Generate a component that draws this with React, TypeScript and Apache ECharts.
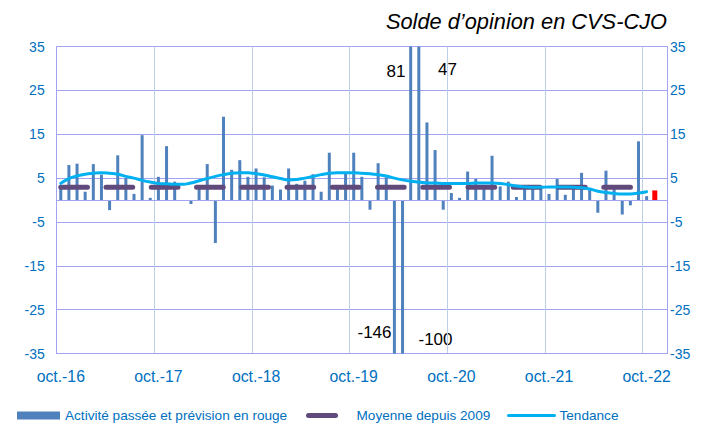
import React, { useEffect, useRef } from 'react';
import * as echarts from 'echarts';

const FONT = '"Liberation Sans", Arial, sans-serif';
const BLUE_TXT = '#0070C0';
const GRID_H = '#A3A3F2';
const GRID_V = '#BCCFE6';

// Tick labels (French month abbreviations) and years shown on the axis
const moisAbr = ['janv.', 'févr.', 'mars', 'avr.', 'mai', 'juin', 'juil.', 'août', 'sept.', 'oct.', 'nov.', 'déc.'];
const anneeDebut = 2016;
const anneeFin = 2022;

// Monthly opinion balance, oct-16 .. oct-22 (73 months)
const activite = [
  3.0, 8.0, 8.3, 1.9, 8.2, 5.8, -2.3, 10.2, 5.0, 1.4, 14.8, 0.5,
  5.3, 12.3, 4.2, -0.2, -0.9, 2.8, 8.2, -9.8, 19.0, 6.9, 9.1, 5.3,
  7.2, 5.2, 3.3, 2.4, 7.2, 3.7, 4.4, 5.9, 1.9, 10.8, 2.5, 6.0,
  10.8, 5.3, -2.2, 8.4, 5.2, -146, -100, 81, 47, 17.7, 11.4, -2.2,
  1.6, 0.5, 6.5, 4.8, 2.5, 10.1, 3.1, 4.2, 0.7, 2.5, 2.5, 3.2,
  1.4, 4.8, 1.2, 2.5, 6.2, 2.3, -2.9, 6.7, 2.7, -3.3, -1.2, 13.4,
  0.9,
];
// Forecast (red) for nov-22
const prevision = [2.2];

// Smoothed trend
const tendance = [
  3.8, 4.9, 5.5, 5.9, 6.1, 6.2, 6.1, 5.9, 5.4, 5.0, 4.5, 4.1,
  3.8, 3.7, 3.6, 3.6, 3.9, 4.4, 4.9, 5.4, 5.8, 6.1, 6.2, 6.2,
  6.0, 5.7, 5.3, 4.9, 4.6, 4.7, 5.0, 5.4, 5.8, 6.1, 6.2, 6.2,
  6.2, 6.1, 6.0, 5.8, 5.5, 5.0, 4.6, 4.3, 4.1, 3.9, 3.9, 3.8,
  3.8, 3.8, 3.8, 3.9, 3.9, 3.9, 3.8, 3.5, 3.2, 3.0, 2.9, 2.9,
  3.0, 3.0, 3.0, 2.9, 2.8, 2.5, 2.0, 1.7, 1.5, 1.4, 1.4, 1.6,
  1.9,
];

// Long-run mean since 2009
const moyenne = [2.9];

const NOM_ACT = 'Activité passée et prévision en rouge';
const NOM_PREV = 'Prévision';
const NOM_MOY = 'Moyenne depuis 2009';
const NOM_TEND = 'Tendance';

const categories: string[] = [];
for (let y = anneeDebut; y <= anneeFin; y++) {
  for (let m = 0; m < 12; m++) {
    if (y === anneeDebut && m < 9) continue;
    categories.push(`${moisAbr[m]}-${String(y).slice(2)}`);
  }
}

export default function App() {
  const ref = useRef<HTMLDivElement>(null);

  useEffect(() => {
    document.body.style.margin = '0';
    if (!ref.current) return;
    const chart = echarts.init(ref.current, undefined, { renderer: 'svg' });

    const prevData: (number | null)[] = activite.map(() => null);
    prevision.forEach((v) => prevData.push(v));
    const moyData = activite.map(() => moyenne[0]);

    const legendText = { color: BLUE_TXT, fontSize: 13.6, fontFamily: FONT };
    const LEG_TOP = 408.5;

    const yCommon = {
      type: 'value',
      min: -35,
      max: 35,
      interval: 10,
      axisTick: { show: false },
      axisLine: { show: true, lineStyle: { color: GRID_H } },
    };

    chart.setOption({
      animation: false,
      textStyle: { fontFamily: FONT },
      title: {
        text: 'Solde d’opinion en CVS-CJO',
        right: 29,
        top: 5,
        textStyle: { fontSize: 21.8, fontStyle: 'italic', fontWeight: 'normal', color: '#000', fontFamily: FONT },
      },
      grid: { left: 56.7, right: 34, top: 46.6, bottom: 69.5 },
      xAxis: [
        {
          type: 'category',
          data: categories,
          boundaryGap: true,
          axisLine: { show: true, onZero: false, lineStyle: { color: GRID_H } },
          axisTick: { show: false },
          axisLabel: { interval: 11, color: BLUE_TXT, fontSize: 15.8, margin: 15, fontFamily: FONT },
          splitLine: { show: true, interval: 11, lineStyle: { color: GRID_V } },
        },
        {
          type: 'category',
          data: categories,
          boundaryGap: true,
          show: false,
        },
      ],
      yAxis: [
        {
          ...yCommon,
          position: 'left',
          axisLabel: { color: BLUE_TXT, fontSize: 14, margin: 12, fontFamily: FONT },
          splitLine: { show: true, lineStyle: { color: GRID_H } },
        },
        {
          ...yCommon,
          position: 'right',
          axisLabel: { color: BLUE_TXT, fontSize: 14, margin: 3, fontFamily: FONT },
          splitLine: { show: false },
        },
      ],
      legend: [
        {
          data: [NOM_ACT],
          left: 17,
          top: LEG_TOP,
          padding: 0,
          itemWidth: 43,
          itemHeight: 8,
          icon: 'rect',
          selectedMode: false,
          textStyle: legendText,
        },
        {
          data: [NOM_MOY],
          left: 306,
          top: LEG_TOP,
          padding: 0,
          itemWidth: 27,
          itemHeight: 12,
          selectedMode: false,
          itemStyle: { opacity: 0 },
          lineStyle: { width: 5, type: 'solid', cap: 'round' },
          textStyle: { ...legendText, padding: [0, 0, 0, 16] },
        },
        {
          data: [NOM_TEND],
          left: 507,
          top: LEG_TOP,
          padding: 0,
          itemWidth: 46,
          itemHeight: 12,
          selectedMode: false,
          itemStyle: { opacity: 0 },
          lineStyle: { width: 3 },
          textStyle: { ...legendText, padding: [0, 0, 0, 0] },
        },
      ],
      series: [
        {
          name: NOM_ACT,
          type: 'bar',
          data: activite,
          barWidth: 3,
          itemStyle: { color: '#4F81BD' },
          clip: true,
          markLine: {
            silent: true,
            symbol: 'none',
            label: { show: false },
            lineStyle: { color: GRID_H, width: 1, type: 'solid' },
            data: [{ yAxis: 0 }],
          },
        },
        {
          name: NOM_PREV,
          type: 'bar',
          xAxisIndex: 1,
          data: prevData,
          barWidth: 5,
          itemStyle: { color: '#FF0000' },
        },
        {
          name: NOM_MOY,
          type: 'line',
          data: moyData,
          symbol: 'none',
          lineStyle: { color: '#604A7B', width: 5, type: [26.7, 18.55], cap: 'round' },
          itemStyle: { color: '#604A7B' },
        },
        {
          name: NOM_TEND,
          type: 'line',
          data: tendance,
          smooth: true,
          symbol: 'none',
          lineStyle: { color: '#00B0F0', width: 3, cap: 'round' },
          itemStyle: { color: '#00B0F0' },
        },
      ],
      graphic: [
        { type: 'text', x: 396, y: 71, style: { text: String(activite[43]), fontSize: 17, fill: '#000', fontFamily: FONT, align: 'center', verticalAlign: 'middle' } },
        { type: 'text', x: 447.5, y: 69, style: { text: String(activite[44]), fontSize: 17, fill: '#000', fontFamily: FONT, align: 'center', verticalAlign: 'middle' } },
        { type: 'text', x: 374.5, y: 332, style: { text: String(activite[41]), fontSize: 17, fill: '#000', fontFamily: FONT, align: 'center', verticalAlign: 'middle' } },
        { type: 'text', x: 435.5, y: 339, style: { text: String(activite[42]), fontSize: 17, fill: '#000', fontFamily: FONT, align: 'center', verticalAlign: 'middle' } },
      ],
    });

    return () => chart.dispose();
  }, []);

  return <div ref={ref} style={{ width: 701, height: 423 }} />;
}
